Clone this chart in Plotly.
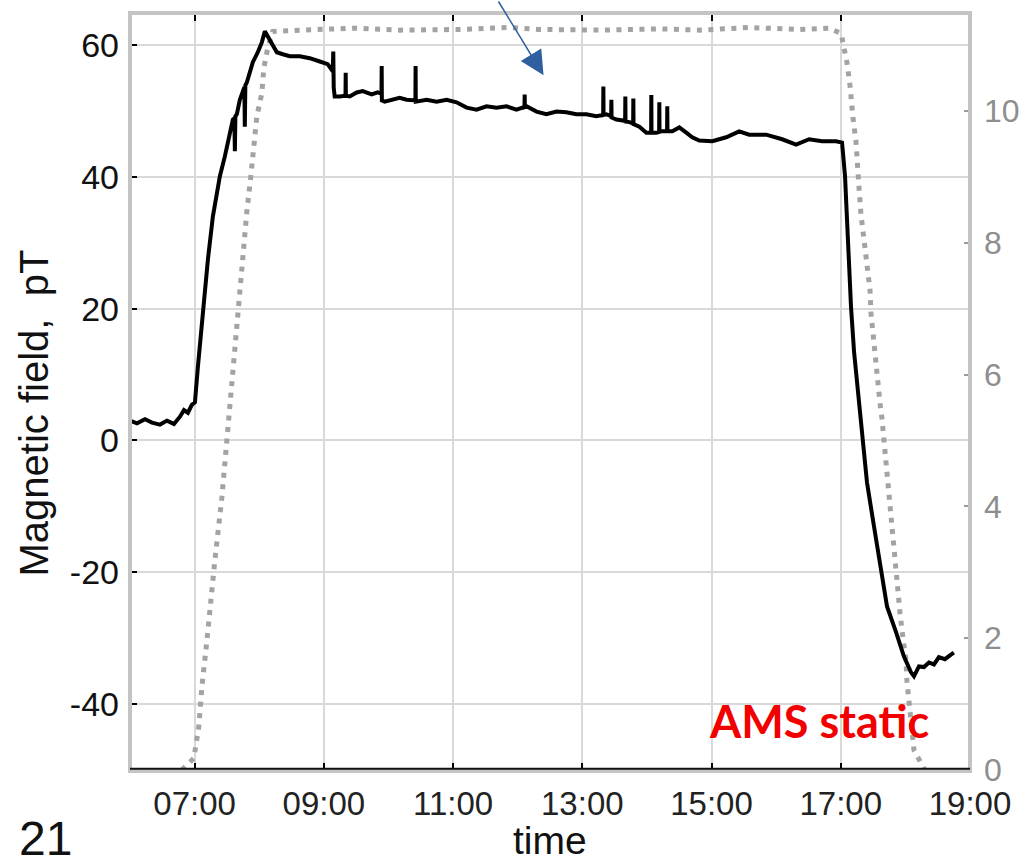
import plotly.graph_objects as go

# ---- data ----
# time axis in decimal hours
black_t = [6.000, 6.108, 6.232, 6.340, 6.464, 6.572, 6.680, 6.773, 6.835, 6.896, 6.958, 7.005,
           7.051, 7.113, 7.144, 7.206, 7.283, 7.391, 7.468, 7.546, 7.592, 7.615, 7.623, 7.631,
           7.654, 7.700, 7.747, 7.770, 7.777, 7.785, 7.808, 7.855, 7.901, 7.978, 8.040, 8.087,
           8.133, 8.195, 8.272, 8.365, 8.473, 8.628, 8.782, 8.937, 9.060, 9.138, 9.146, 9.153,
           9.168, 9.246, 9.335, 9.338, 9.341, 9.400, 9.509, 9.601, 9.740, 9.833, 9.892, 9.895,
           9.898, 9.941, 10.065, 10.173, 10.281, 10.417, 10.420, 10.423, 10.590, 10.745, 10.900,
           11.054, 11.209, 11.363, 11.518, 11.672, 11.827, 11.981, 12.105, 12.108, 12.111, 12.136,
           12.291, 12.445, 12.600, 12.754, 12.909, 13.063, 13.218, 13.323, 13.326, 13.329, 13.372,
           13.447, 13.450, 13.453, 13.527, 13.663, 13.666, 13.669, 13.728, 13.787, 13.790, 13.793,
           13.883, 13.991, 14.065, 14.068, 14.071, 14.145, 14.189, 14.192, 14.195, 14.238, 14.312,
           14.315, 14.318, 14.393, 14.501, 14.609, 14.702, 14.810, 15.011, 15.227, 15.428, 15.583,
           15.845, 16.093, 16.309, 16.510, 16.711, 16.927, 17.020, 17.066, 17.113, 17.159, 17.206,
           17.298, 17.329, 17.406, 17.515, 17.623, 17.716, 17.855, 17.978, 18.087, 18.133, 18.210,
           18.287, 18.365, 18.442, 18.519, 18.612, 18.705, 18.751]
black_v = [3.0, 2.6, 3.2, 2.7, 2.4, 3.0, 2.5, 3.6, 4.6, 4.2, 5.4, 5.8,
           11.2, 18.4, 22.0, 27.5, 34.0, 40.1, 43.1, 46.7, 48.7, 48.9, 43.9, 49.2,
           49.5, 51.7, 53.3, 53.6, 47.6, 53.9, 54.3, 56.0, 57.4, 58.9, 60.4, 62.1,
           61.3, 60.1, 58.9, 58.6, 58.3, 58.3, 58.0, 57.5, 57.1, 56.0, 59.0, 53.5,
           52.2, 52.2, 52.3, 55.8, 52.3, 52.2, 52.8, 53.0, 52.5, 52.8, 52.6, 56.8,
           51.6, 51.4, 51.7, 52.0, 51.7, 51.6, 56.8, 51.4, 51.7, 51.4, 51.7,
           51.3, 50.5, 50.2, 50.7, 50.5, 50.7, 50.2, 50.6, 52.5, 50.6, 50.7,
           49.9, 49.5, 49.9, 49.8, 49.5, 49.5, 49.2, 49.4, 53.7, 49.4, 49.5,
           49.2, 51.7, 49.0, 48.7, 48.5, 52.2, 48.4, 48.3, 48.1, 51.9, 48.0,
           47.6, 46.7, 46.7, 52.4, 46.7, 46.7, 46.8, 51.3, 46.9, 46.9, 46.9,
           50.7, 46.9, 46.9, 47.5, 46.7, 46.0, 45.5, 45.4, 46.0, 46.9, 46.4,
           46.4, 45.7, 44.9, 45.7, 45.4, 45.4, 45.2, 40.1, 28.5, 20.2, 13.4,
           3.6, 0.2, -6.4, -13.1, -19.6, -25.2, -29.1, -32.8, -35.2, -35.8, -34.3,
           -34.4, -33.7, -34.0, -32.9, -33.2, -32.5, -32.2]

gray_t = [6.80, 6.989, 7.066, 7.113, 7.190, 7.221, 7.314, 7.422, 7.484, 7.561, 7.638, 7.669,
          7.747, 7.808, 7.870, 7.932, 7.963, 8.040, 8.071, 8.133, 8.210, 8.628, 9.509, 10.173,
          11.100, 11.873, 12.337, 13.264, 14.192, 14.810, 15.583, 16.355, 16.819, 17.005, 17.097,
          17.144, 17.159, 17.190, 17.236, 17.252, 17.283, 17.314, 17.360, 17.391, 17.422, 17.453,
          17.468, 17.499, 17.530, 17.576, 17.607, 17.638, 17.669, 17.700, 17.731, 17.762, 17.793,
          17.824, 17.855, 17.886, 17.917, 17.963, 18.009, 18.025, 18.056, 18.133, 18.256, 18.30]
gray_v = [0.0, 0.18, 0.67, 1.27, 1.96, 2.28, 3.19, 4.14, 4.84, 5.78, 6.45, 6.95,
          7.83, 8.47, 9.01, 9.58, 9.92, 10.27, 10.65, 10.97, 11.21, 11.23, 11.26, 11.23,
          11.24, 11.27, 11.24, 11.23, 11.25, 11.23, 11.27, 11.24, 11.26, 11.18, 10.73,
          10.38, 10.14, 9.89, 9.53, 9.20, 8.83, 8.42, 8.07, 7.80, 7.56, 7.28,
          6.93, 6.59, 6.24, 5.87, 5.57, 5.33, 4.98, 4.63, 4.29, 3.98, 3.67,
          3.32, 2.97, 2.61, 2.38, 2.00, 1.67, 1.34, 1.00, 0.30, 0.08, 0.0]

x_tick_vals = [7, 9, 11, 13, 15, 17, 19]
x_tick_text = ["07:00", "09:00", "11:00", "13:00", "15:00", "17:00", "19:00"]
left_ticks = [-40, -20, 0, 20, 40, 60]
left_tick_text = ["-40", "-20", "0", "20", "40", "60"]
right_ticks = [0, 2, 4, 6, 8, 10]
right_tick_text = ["0", "2", "4", "6", "8", "10"]

FONT = "Liberation Sans"

fig = go.Figure()
fig.add_trace(go.Scatter(x=gray_t, y=gray_v, yaxis="y", mode="lines",
                         line=dict(color="#a3a3a3", width=5, dash="5px,6.5px"),
                         showlegend=False, hoverinfo="skip"))
fig.add_trace(go.Scatter(x=black_t, y=black_v, yaxis="y2", mode="lines",
                         line=dict(color="black", width=4),
                         showlegend=False, hoverinfo="skip"))

fig.update_layout(
    width=1026, height=864,
    margin=dict(l=130, r=56, t=13, b=93, autoexpand=False),
    paper_bgcolor="white", plot_bgcolor="white",
    xaxis=dict(range=[6, 19], tickvals=x_tick_vals, ticktext=x_tick_text,
               ticks="inside", ticklen=8, tickwidth=2, tickcolor="black",
               mirror="ticks", showline=False, showgrid=True, automargin=False,
               gridcolor="#d9d9d9", gridwidth=1.5, zeroline=False,
               tickfont=dict(family=FONT, size=33, color="#222222"),
               ticklabelstandoff=10),
    yaxis=dict(range=[-0.015, 11.49], side="right", tickvals=right_ticks,
               ticktext=right_tick_text, automargin=False,
               ticks="inside", ticklen=6, tickwidth=1.5, tickcolor="#9a9a9a",
               showgrid=False, zeroline=False, showline=False,
               tickfont=dict(family=FONT, size=32, color="#8e8e8e"),
               ticklabelstandoff=13),
    yaxis2=dict(range=[-50.17, 64.86], overlaying="y", side="left",
                tickvals=left_ticks, ticktext=left_tick_text, automargin=False,
                ticks="inside", ticklen=7, tickwidth=2,
                tickcolor="black", showgrid=True, gridcolor="#d9d9d9",
                gridwidth=1.5, zeroline=False, showline=False,
                tickfont=dict(family=FONT, size=34, color="#111111"),
                ticklabelstandoff=10),
    shapes=[
        dict(type="rect", xref="paper", yref="paper", x0=0, x1=1, y0=0, y1=1,
             line=dict(color="#c4c4c4", width=4), layer="above"),
        dict(type="line", xref="paper", yref="paper", x0=0, x1=1, y0=0.003, y1=0.003,
             line=dict(color="#111111", width=2), layer="above"),
    ],
    annotations=[
        dict(text="Magnetic field,  pT", xref="paper", yref="paper", x=-0.114, y=0.472,
             textangle=-90, showarrow=False, xanchor="center", yanchor="middle",
             font=dict(family=FONT, size=40, color="#111111")),
        dict(text="time", xref="paper", yref="paper", x=0.5, y=-0.061,
             showarrow=False, xanchor="center", yanchor="top",
             font=dict(family=FONT, size=39, color="#111111")),
        dict(text="21", xref="paper", yref="paper", x=-0.101, y=-0.051,
             showarrow=False, xanchor="center", yanchor="top",
             font=dict(family=FONT, size=48, color="#111111")),
        dict(text="<b>AMS static</b>", xref="paper", yref="paper", x=0.820, y=0.066,
             showarrow=False, xanchor="center", yanchor="middle",
             font=dict(family="Lato", size=45, color="#f20000")),
        dict(text="", x=12.40, y=55.4, xref="x", yref="y2",
             showarrow=True, ax=-46, ay=-77, arrowhead=2, arrowsize=3.2,
             arrowwidth=1.5, arrowcolor="#2f5fa0"),
    ],
)

fig.write_html("out.html")
